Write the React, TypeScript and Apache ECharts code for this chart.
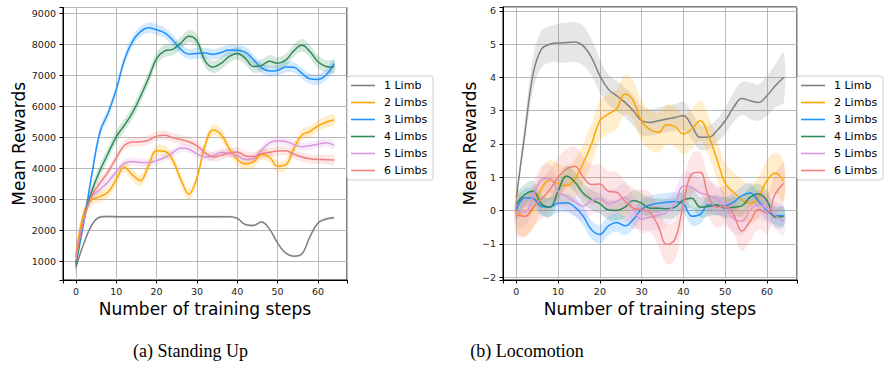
import React, { useEffect, useRef } from 'react';
import * as echarts from 'echarts';

const steps = [0, 2, 4, 6, 8, 10, 12, 14, 16, 18, 20, 22, 24, 26, 28, 30, 32, 34, 36, 38, 40, 42, 44, 46, 48, 50, 52, 54, 56, 58, 60, 62, 64];
const names = ['1 Limb', '2 Limbs', '3 Limbs', '4 Limbs', '5 Limbs', '6 Limbs'];
const colors = ['#808080', '#FFA500', '#1E90FF', '#2E8B57', '#DA98DC', '#F08080'];

// (a) Standing Up
const standGray = [820, 1600, 2200, 2440, 2460, 2450, 2450, 2450, 2450, 2450, 2450, 2450, 2450, 2450, 2450, 2450, 2450, 2450, 2450, 2450, 2400, 2200, 2170, 2280, 2050, 1600, 1280, 1180, 1250, 1800, 2250, 2380, 2420];
const standYellow = [1200, 2600, 3000, 3100, 3250, 3650, 4050, 3800, 3620, 4100, 4580, 4560, 4280, 3650, 3180, 3700, 4750, 5250, 5100, 4650, 4300, 4150, 4220, 4460, 4370, 4080, 4120, 4650, 5080, 5200, 5380, 5500, 5570];
const standBlue = [950, 2300, 3850, 5200, 5800, 6550, 7500, 8100, 8420, 8550, 8480, 8380, 8150, 7850, 7700, 7720, 7730, 7690, 7750, 7830, 7820, 7760, 7520, 7250, 7150, 7170, 7280, 7270, 7080, 6900, 6880, 7020, 7390];
const standGreen = [900, 2400, 3300, 3950, 4500, 5030, 5400, 5800, 6330, 6920, 7550, 7800, 7850, 8050, 8270, 8120, 7480, 7280, 7400, 7620, 7720, 7560, 7300, 7330, 7470, 7400, 7500, 7800, 7980, 7780, 7450, 7300, 7280];
const standPink = [1050, 2400, 3100, 3330, 3580, 3900, 4170, 4230, 4200, 4200, 4260, 4360, 4520, 4670, 4630, 4480, 4380, 4420, 4520, 4500, 4420, 4300, 4330, 4600, 4830, 4900, 4880, 4780, 4710, 4740, 4790, 4840, 4760];
const standRed = [1150, 2400, 3150, 3550, 3900, 4350, 4750, 4860, 4870, 4920, 5050, 5080, 5000, 4940, 4870, 4740, 4520, 4380, 4430, 4500, 4540, 4420, 4390, 4480, 4530, 4570, 4580, 4470, 4380, 4320, 4300, 4290, 4280];
const standBands = [40, 180, 170, 200, 130, 150];

// (b) Locomotion
const locoGray = [0.4, 2.3, 4.1, 4.85, 5.0, 5.04, 5.05, 5.07, 4.95, 4.6, 4.05, 3.65, 3.45, 3.25, 3.0, 2.7, 2.65, 2.7, 2.75, 2.8, 2.85, 2.55, 2.2, 2.2, 2.4, 2.7, 3.1, 3.37, 3.3, 3.25, 3.45, 3.75, 4.0];
const locoYellow = [0.0, -0.18, 0.05, 0.65, 0.92, 0.8, 0.75, 0.95, 1.42, 2.0, 2.7, 2.9, 3.05, 3.5, 3.3, 2.68, 2.43, 2.35, 2.58, 2.52, 2.3, 2.45, 2.7, 2.25, 1.55, 0.82, 0.55, 0.33, 0.21, 0.4, 0.9, 1.13, 0.88];
const locoBlue = [0.02, 0.38, 0.36, 0.12, 0.1, 0.22, 0.23, 0.1, -0.17, -0.58, -0.72, -0.47, -0.36, -0.46, -0.27, 0.04, 0.16, 0.22, 0.25, 0.27, 0.2, -0.17, -0.12, 0.17, 0.13, 0.14, 0.25, 0.45, 0.53, 0.28, 0.0, -0.15, -0.16];
const locoGreen = [0.2, 0.48, 0.58, 0.2, 0.1, 0.58, 1.04, 0.86, 0.52, 0.33, 0.2, 0.02, 0.0, 0.1, 0.3, 0.22, 0.07, 0.07, 0.05, 0.1, 0.32, 0.37, 0.1, 0.12, 0.17, 0.07, 0.1, 0.14, 0.4, 0.5, 0.3, -0.2, -0.18];
const locoPink = [-0.03, -0.06, 0.42, 0.92, 0.97, 0.57, 0.43, 0.26, 0.13, 0.3, 0.36, 0.2, 0.28, 0.4, 0.03, -0.26, -0.2, -0.14, -0.06, 0.22, 0.74, 0.7, 0.53, 0.46, 0.35, 0.1, -0.25, -0.32, 0.02, 0.17, 0.05, -0.15, -0.33];
const locoRed = [-0.13, -0.18, 0.1, 0.35, 0.62, 1.0, 1.25, 1.33, 1.0, 0.78, 0.8, 0.58, 0.55, 0.28, 0.07, 0.03, -0.05, -0.48, -1.02, -0.86, 0.2, 1.1, 1.15, 0.42, 0.1, 0.13, -0.12, -0.62, -0.32, 0.03, -0.08, 0.5, 0.82];
const locoGrayBand = [0.05, 0.3, 0.5, 0.55, 0.55, 0.58, 0.6, 0.6, 0.6, 0.55, 0.5, 0.45, 0.45, 0.45, 0.45, 0.42, 0.4, 0.4, 0.4, 0.4, 0.42, 0.4, 0.38, 0.35, 0.35, 0.4, 0.45, 0.5, 0.55, 0.55, 0.6, 0.65, 0.75];
const locoBands = [0, 0.6, 0.28, 0.3, 0.42, 0.6];

const FONT = 'DejaVu Sans';
const SMOOTH = 0.4;

function hexToRgba(hex: string, a: number) {
  const n = parseInt(hex.slice(1), 16);
  return `rgba(${(n >> 16) & 255},${(n >> 8) & 255},${n & 255},${a})`;
}

function buildSeries(idx: number, means: number[][], bands: (number | number[])[]) {
  const bandSeries: any[] = [];
  const lineSeries: any[] = [];
  means.forEach((m, i) => {
    const b = bands[i];
    const hw = (k: number) => (Array.isArray(b) ? b[k] : b);
    const fill = hexToRgba(colors[i], 0.2);
    bandSeries.push({
      type: 'custom', xAxisIndex: idx, yAxisIndex: idx, clip: true, silent: true, z: 1,
      data: [[steps[0], m[0]]],
      renderItem: (params: any, api: any) => {
        const up = steps.map((s, k) => api.coord([s, m[k] + hw(k)]));
        const lo = steps.map((s, k) => api.coord([s, m[k] - hw(k)])).reverse();
        return {
          type: 'polygon',
          shape: { points: [...up, ...lo], smooth: SMOOTH },
          style: { fill, stroke: 'none' },
          silent: true,
        };
      },
    });
    lineSeries.push({
      type: 'line', name: names[i], xAxisIndex: idx, yAxisIndex: idx,
      data: steps.map((s, k) => [s, m[k]]),
      smooth: SMOOTH, symbol: 'none', z: 3,
      lineStyle: { color: colors[i], width: 1.5 },
      itemStyle: { color: colors[i] },
    });
  });
  return [...bandSeries, ...lineSeries];
}

function xAxisCfg(gridIndex: number) {
  return {
    type: 'value', gridIndex, min: -3.2, max: 67.2, splitNumber: 7,
    axisLine: { show: true, onZero: false, lineStyle: { color: '#000', width: 1 } },
    axisTick: { show: true, length: 3.5, lineStyle: { color: '#000' } },
    axisLabel: {
      fontSize: 9.5, fontFamily: FONT, color: '#222', margin: 6,
      formatter: (v: number) => (Math.abs(v % 10) < 1e-6 ? String(v) : ''),
    },
    splitLine: { show: true, lineStyle: { color: '#b8b8b8', width: 1 } },
    name: 'Number of training steps', nameLocation: 'middle', nameGap: 18,
    nameTextStyle: { fontSize: 17, fontFamily: FONT, color: '#000' },
  };
}

function yAxisCfg(gridIndex: number, min: number, max: number, split: number, step: number, gap: number) {
  return {
    type: 'value', gridIndex, min, max, splitNumber: split,
    axisLine: { show: true, onZero: false, lineStyle: { color: '#000', width: 1 } },
    axisTick: { show: true, length: 3.5, lineStyle: { color: '#000' } },
    axisLabel: {
      fontSize: 9.5, fontFamily: FONT, color: '#222', margin: 7,
      formatter: (v: number) => {
        const r = Math.round(v / step) * step;
        if (Math.abs(v - r) > 1e-6) return '';
        return r < 0 ? '\u2212' + Math.abs(r) : String(r);
      },
    },
    splitLine: { show: true, lineStyle: { color: '#b8b8b8', width: 1 } },
    name: 'Mean Rewards', nameLocation: 'middle', nameGap: gap, nameRotate: 90,
    nameTextStyle: { fontSize: 17, fontFamily: FONT, color: '#000' },
  };
}

function legendCfg(left: number) {
  return {
    left, top: 76, orient: 'vertical', icon: 'rect',
    itemWidth: 24, itemHeight: 1.6, itemGap: 6,
    padding: [4, 6, 4, 4],
    borderColor: '#cccccc', borderWidth: 1, borderRadius: 3,
    backgroundColor: 'rgba(255,255,255,0.85)',
    textStyle: { fontSize: 11, fontFamily: FONT, color: '#000', padding: [0, 0, 0, 4] },
    data: names,
    selectedMode: false,
  };
}

export default function App() {
  const ref = useRef<HTMLDivElement>(null);
  useEffect(() => {
    if (!ref.current) return;
    const chart = echarts.init(ref.current, undefined, { renderer: 'svg' });
    const standMeans = [standGray, standYellow, standBlue, standGreen, standPink, standRed];
    const locoMeans = [locoGray, locoYellow, locoBlue, locoGreen, locoPink, locoRed];
    const locoBandAll: (number | number[])[] = [locoGrayBand, ...locoBands.slice(1)];
    chart.setOption({
      animation: false,
      grid: [
        { left: 63, top: 7.5, width: 284, height: 272.5, show: true, borderColor: '#000', borderWidth: 1, backgroundColor: 'transparent' },
        { left: 503, top: 7, width: 294, height: 273, show: true, borderColor: '#000', borderWidth: 1, backgroundColor: 'transparent' },
      ],
      xAxis: [xAxisCfg(0), xAxisCfg(1)],
      yAxis: [yAxisCfg(0, 410, 9200, 8, 1000, 33), yAxisCfg(1, -2.09, 6.12, 8, 1, 24)],
      legend: [legendCfg(347), legendCfg(797)],
      series: [
        ...buildSeries(0, standMeans, standBands),
        ...buildSeries(1, locoMeans, locoBandAll),
      ],
      graphic: [
        { type: 'text', x: 190.5, y: 351, style: { text: '(a) Standing Up', fontSize: 18, fontFamily: 'Liberation Serif', fill: '#000', align: 'center', verticalAlign: 'middle' } },
        { type: 'text', x: 527, y: 351, style: { text: '(b) Locomotion', fontSize: 18, fontFamily: 'Liberation Serif', fill: '#000', align: 'center', verticalAlign: 'middle' } },
      ],
    });
    return () => chart.dispose();
  }, []);
  return <div ref={ref} style={{ position: 'fixed', left: 0, top: 0, width: 884, height: 368, background: '#fff' }} />;
}
